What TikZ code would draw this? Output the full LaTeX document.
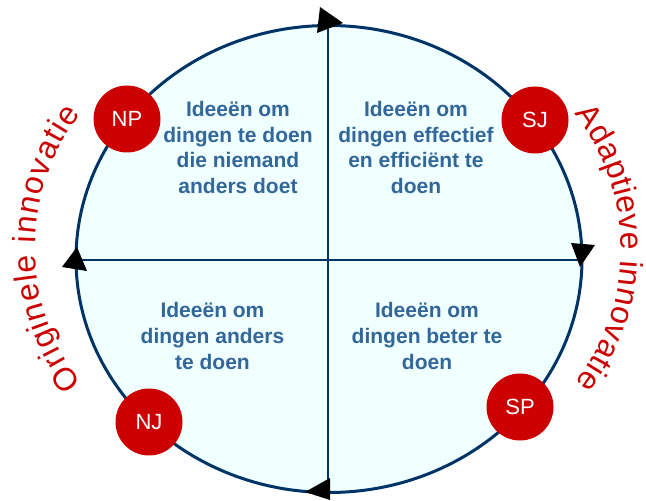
\documentclass[tikz,border=0pt]{standalone}
\usepackage{fontspec}
\setmainfont{Liberation Sans}
\usetikzlibrary{decorations.text}
\definecolor{navy}{RGB}{0,51,102}
\definecolor{qblue}{RGB}{51,102,153}
\definecolor{bred}{RGB}{204,0,0}
\definecolor{azure}{RGB}{240,255,255}
\newcommand{\curvefont}{\fontsize{32}{32}\selectfont\color{bred}}
\begin{document}
\begin{tikzpicture}[x=1pt,y=1pt,
  quad/.style={font=\fontsize{21}{24}\selectfont\bfseries, text=qblue, anchor=base, inner sep=0pt},
  badge/.style={circle, fill=bred, minimum size=67pt, inner sep=0pt, text=white, font=\fontsize{22}{22}\selectfont},
  axis/.style={draw=navy, line width=1.2pt},
  tri/.style={fill=black}]
\useasboundingbox (0,0) rectangle (646,501);
\fill[white] (0,0) rectangle (646,501);
\coordinate (c) at (329,242);
\draw[line width=3pt, draw=navy, fill=azure] (c) ellipse [x radius=253pt, y radius=233.5pt];
\coordinate (t) at (328,475.5);
\coordinate (b) at (328,8.5);
\coordinate (l) at (76,241);
\coordinate (r) at (582,241);
\draw[axis] (t) -- (b);
\draw[axis] (l) -- (r);
% quadrant texts
\node[quad] (tl1) at (238,384) {Ideeën om};
\node[quad] (tl2) at (238,358) {dingen te doen};
\node[quad] (tl3) at (238,333) {die niemand};
\node[quad] (tl4) at (238,307) {anders doet};
\node[quad] (tr1) at (416,384) {Ideeën om};
\node[quad] (tr2) at (416,358) {dingen effectief};
\node[quad] (tr3) at (416,333) {en efficiënt te};
\node[quad] (tr4) at (416,307) {doen};
\node[quad] (bl1) at (212.5,183) {Ideeën om};
\node[quad] (bl2) at (212.5,157) {dingen anders};
\node[quad] (bl3) at (212.5,131) {te doen};
\node[quad] (br1) at (427,183) {Ideeën om};
\node[quad] (br2) at (427,157) {dingen beter te};
\node[quad] (br3) at (427,131) {doen};
% badges
\node[badge] (np) at (127,382) {NP};
\node[badge] (sj) at (535,381) {SJ};
\node[badge] (nj) at (149,79) {NJ};
\node[badge] (sp) at (520,94) {SP};
% curved labels
\path[decorate, decoration={text along path, text align=fit to path,
  text={|\curvefont|Originele innovatie}}]
  ([shift={(218:220pt)}]255,253) arc[start angle=218, end angle=142.5, radius=220pt];
\path[decorate, decoration={text along path, text align=fit to path,
  text={|\curvefont|Adaptieve innovatie}}]
  ([shift={(38:220pt)}]401,252) arc[start angle=38, end angle=-37.5, radius=220pt];
% arrowheads
\fill[tri] (320,494) -- (343,478) -- (317,468) -- cycle;
\fill[tri] (571,258) -- (595,256) -- (580,234) -- cycle;
\fill[tri] (330,23) -- (305,9) -- (330,1) -- cycle;
\fill[tri] (77,254) -- (62,234) -- (87,230) -- cycle;
\end{tikzpicture}
\end{document}
